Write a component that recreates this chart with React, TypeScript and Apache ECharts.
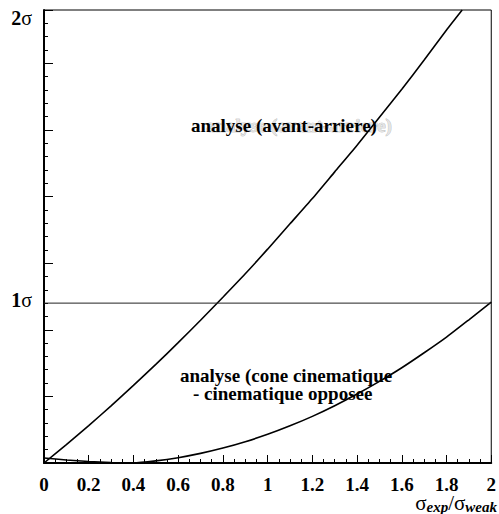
import React, { useEffect, useRef } from "react";
import * as echarts from "echarts";

const FONT = "Liberation Serif, Times New Roman, serif";

// x values (σexp/σweak) and y values (axis units, 1σ at 2.4, 2σ at 6.8)
const avantArriereX = [0, 0.1, 0.2, 0.3, 0.4, 0.5, 0.6, 0.7, 0.8, 0.9, 1.0, 1.1, 1.2, 1.3, 1.4, 1.5, 1.6, 1.7, 1.8, 1.87];
const avantArriereY = [0, 0.276, 0.562, 0.858, 1.164, 1.48, 1.806, 2.142, 2.488, 2.84, 3.21, 3.59, 3.97, 4.37, 4.77, 5.19, 5.61, 6.05, 6.5, 6.8];

const coneX = [0, 0.1, 0.2, 0.3, 0.4, 0.5, 0.6, 0.7, 0.8, 0.9, 1.0, 1.1, 1.2, 1.3, 1.4, 1.5, 1.6, 1.7, 1.8, 1.9, 2.0];
const coneY = [0.075, 0.045, 0.022, 0.008, 0, 0.032, 0.08, 0.144, 0.224, 0.32, 0.43, 0.558, 0.7, 0.86, 1.035, 1.225, 1.43, 1.655, 1.89, 2.15, 2.415];

const oneSigmaLevel = 2.4;
const twoSigmaLevel = 6.8;
const xRange = [0, 2];
const sigmaLabels = ["1", "2"];

const zip = (xs: number[], ys: number[]) => xs.map((x, i) => [x, ys[i]]);

export default function App() {
  const ref = useRef<HTMLDivElement>(null);
  useEffect(() => {
    const chart = echarts.init(ref.current!, null, { renderer: "svg" });
    const black = "#000";
    chart.setOption({
      animation: false,
      backgroundColor: "#fff",
      grid: { left: 44, right: 3, top: 10, bottom: 51, show: true, borderColor: black, borderWidth: 1, backgroundColor: "transparent" },
      xAxis: [
        {
          type: "value",
          min: xRange[0],
          max: xRange[1],
          interval: 0.2,
          axisLine: { lineStyle: { color: black, width: 2 } },
          axisTick: { inside: true, length: 8, lineStyle: { color: black, width: 1 } },
          minorTick: { show: true, splitNumber: 4, length: 4, lineStyle: { color: black, width: 1 } },
          axisLabel: { fontFamily: FONT, fontWeight: "bold", fontSize: 19, color: black, margin: 12 },
          splitLine: { show: false },
          minorSplitLine: { show: false },
        },
      ],
      yAxis: [
        {
          type: "value",
          min: 0,
          max: twoSigmaLevel,
          interval: 0.2,
          axisLine: { show: true, lineStyle: { color: black, width: 2 } },
          axisTick: { show: true, inside: true, length: 4, lineStyle: { color: black, width: 1 } },
          axisLabel: { show: false },
          splitLine: { show: false },
        },
        {
          type: "value",
          min: 0,
          max: twoSigmaLevel,
          interval: 1,
          position: "left",
          axisLine: { show: false },
          axisTick: { show: true, inside: true, length: 9, lineStyle: { color: black, width: 1 } },
          axisLabel: { show: false },
          splitLine: { show: false },
        },
      ],
      series: [
        {
          type: "line",
          data: zip(avantArriereX, avantArriereY),
          showSymbol: false,
          symbol: "none",
          smooth: 0.2,
          lineStyle: { color: black, width: 1.6 },
        },
        {
          type: "line",
          data: zip(coneX, coneY),
          showSymbol: false,
          symbol: "none",
          smooth: 0.2,
          lineStyle: { color: black, width: 1.6 },
        },
        {
          type: "line",
          data: [
            [xRange[0], oneSigmaLevel],
            [xRange[1], oneSigmaLevel],
          ],
          showSymbol: false,
          symbol: "none",
          lineStyle: { color: "#222", width: 1 },
        },
      ],
      graphic: [
        {
          type: "text",
          x: 32,
          y: 18,
          style: {
            text: `{n|${sigmaLabels[1]}}{s|σ}`,
            align: "right",
            verticalAlign: "middle",
            fill: black,
            rich: {
              n: { fontFamily: FONT, fontWeight: "bold", fontSize: 20 },
              s: { fontFamily: FONT, fontSize: 20 },
            },
          },
        },
        {
          type: "text",
          x: 32,
          y: 300,
          style: {
            text: `{n|${sigmaLabels[0]}}{s|σ}`,
            align: "right",
            verticalAlign: "middle",
            fill: black,
            rich: {
              n: { fontFamily: FONT, fontWeight: "bold", fontSize: 20 },
              s: { fontFamily: FONT, fontSize: 20 },
            },
          },
        },
        {
          type: "text",
          x: 206,
          y: 125,
          z: 1,
          style: {
            text: "analyse (avant-arriere)",
            align: "left",
            verticalAlign: "middle",
            fill: "#e4e4e4",
            stroke: "#a8a8a8",
            lineWidth: 0.6,
            fontFamily: FONT,
            fontWeight: "bold",
            fontSize: 19,
          },
        },
        {
          type: "text",
          x: 191,
          y: 125,
          z: 2,
          style: {
            text: "analyse (avant-arriere)",
            align: "left",
            verticalAlign: "middle",
            fill: black,
            fontFamily: FONT,
            fontWeight: "bold",
            fontSize: 19,
          },
        },
        {
          type: "text",
          x: 180,
          y: 375,
          style: {
            text: "analyse (cone cinematique",
            align: "left",
            verticalAlign: "middle",
            fill: black,
            fontFamily: FONT,
            fontWeight: "bold",
            fontSize: 19,
          },
        },
        {
          type: "text",
          x: 193,
          y: 393,
          style: {
            text: "- cinematique opposee",
            align: "left",
            verticalAlign: "middle",
            fill: black,
            fontFamily: FONT,
            fontWeight: "bold",
            fontSize: 19,
          },
        },
        {
          type: "text",
          x: 497,
          y: 503,
          style: {
            text: "{s|σ}{sub|exp}{s|/σ}{sub|weak}",
            align: "right",
            verticalAlign: "middle",
            fill: black,
            rich: {
              s: { fontFamily: FONT, fontSize: 21 },
              sub: { fontFamily: FONT, fontSize: 15, fontWeight: "bold", fontStyle: "italic", padding: [8, 0, 0, 0] },
            },
          },
        },
      ],
    });
    return () => chart.dispose();
  }, []);
  return (
    <div
      ref={ref}
      style={{ position: "absolute", left: 0, top: 0, width: 499, height: 514, background: "#fff" }}
    />
  );
}
